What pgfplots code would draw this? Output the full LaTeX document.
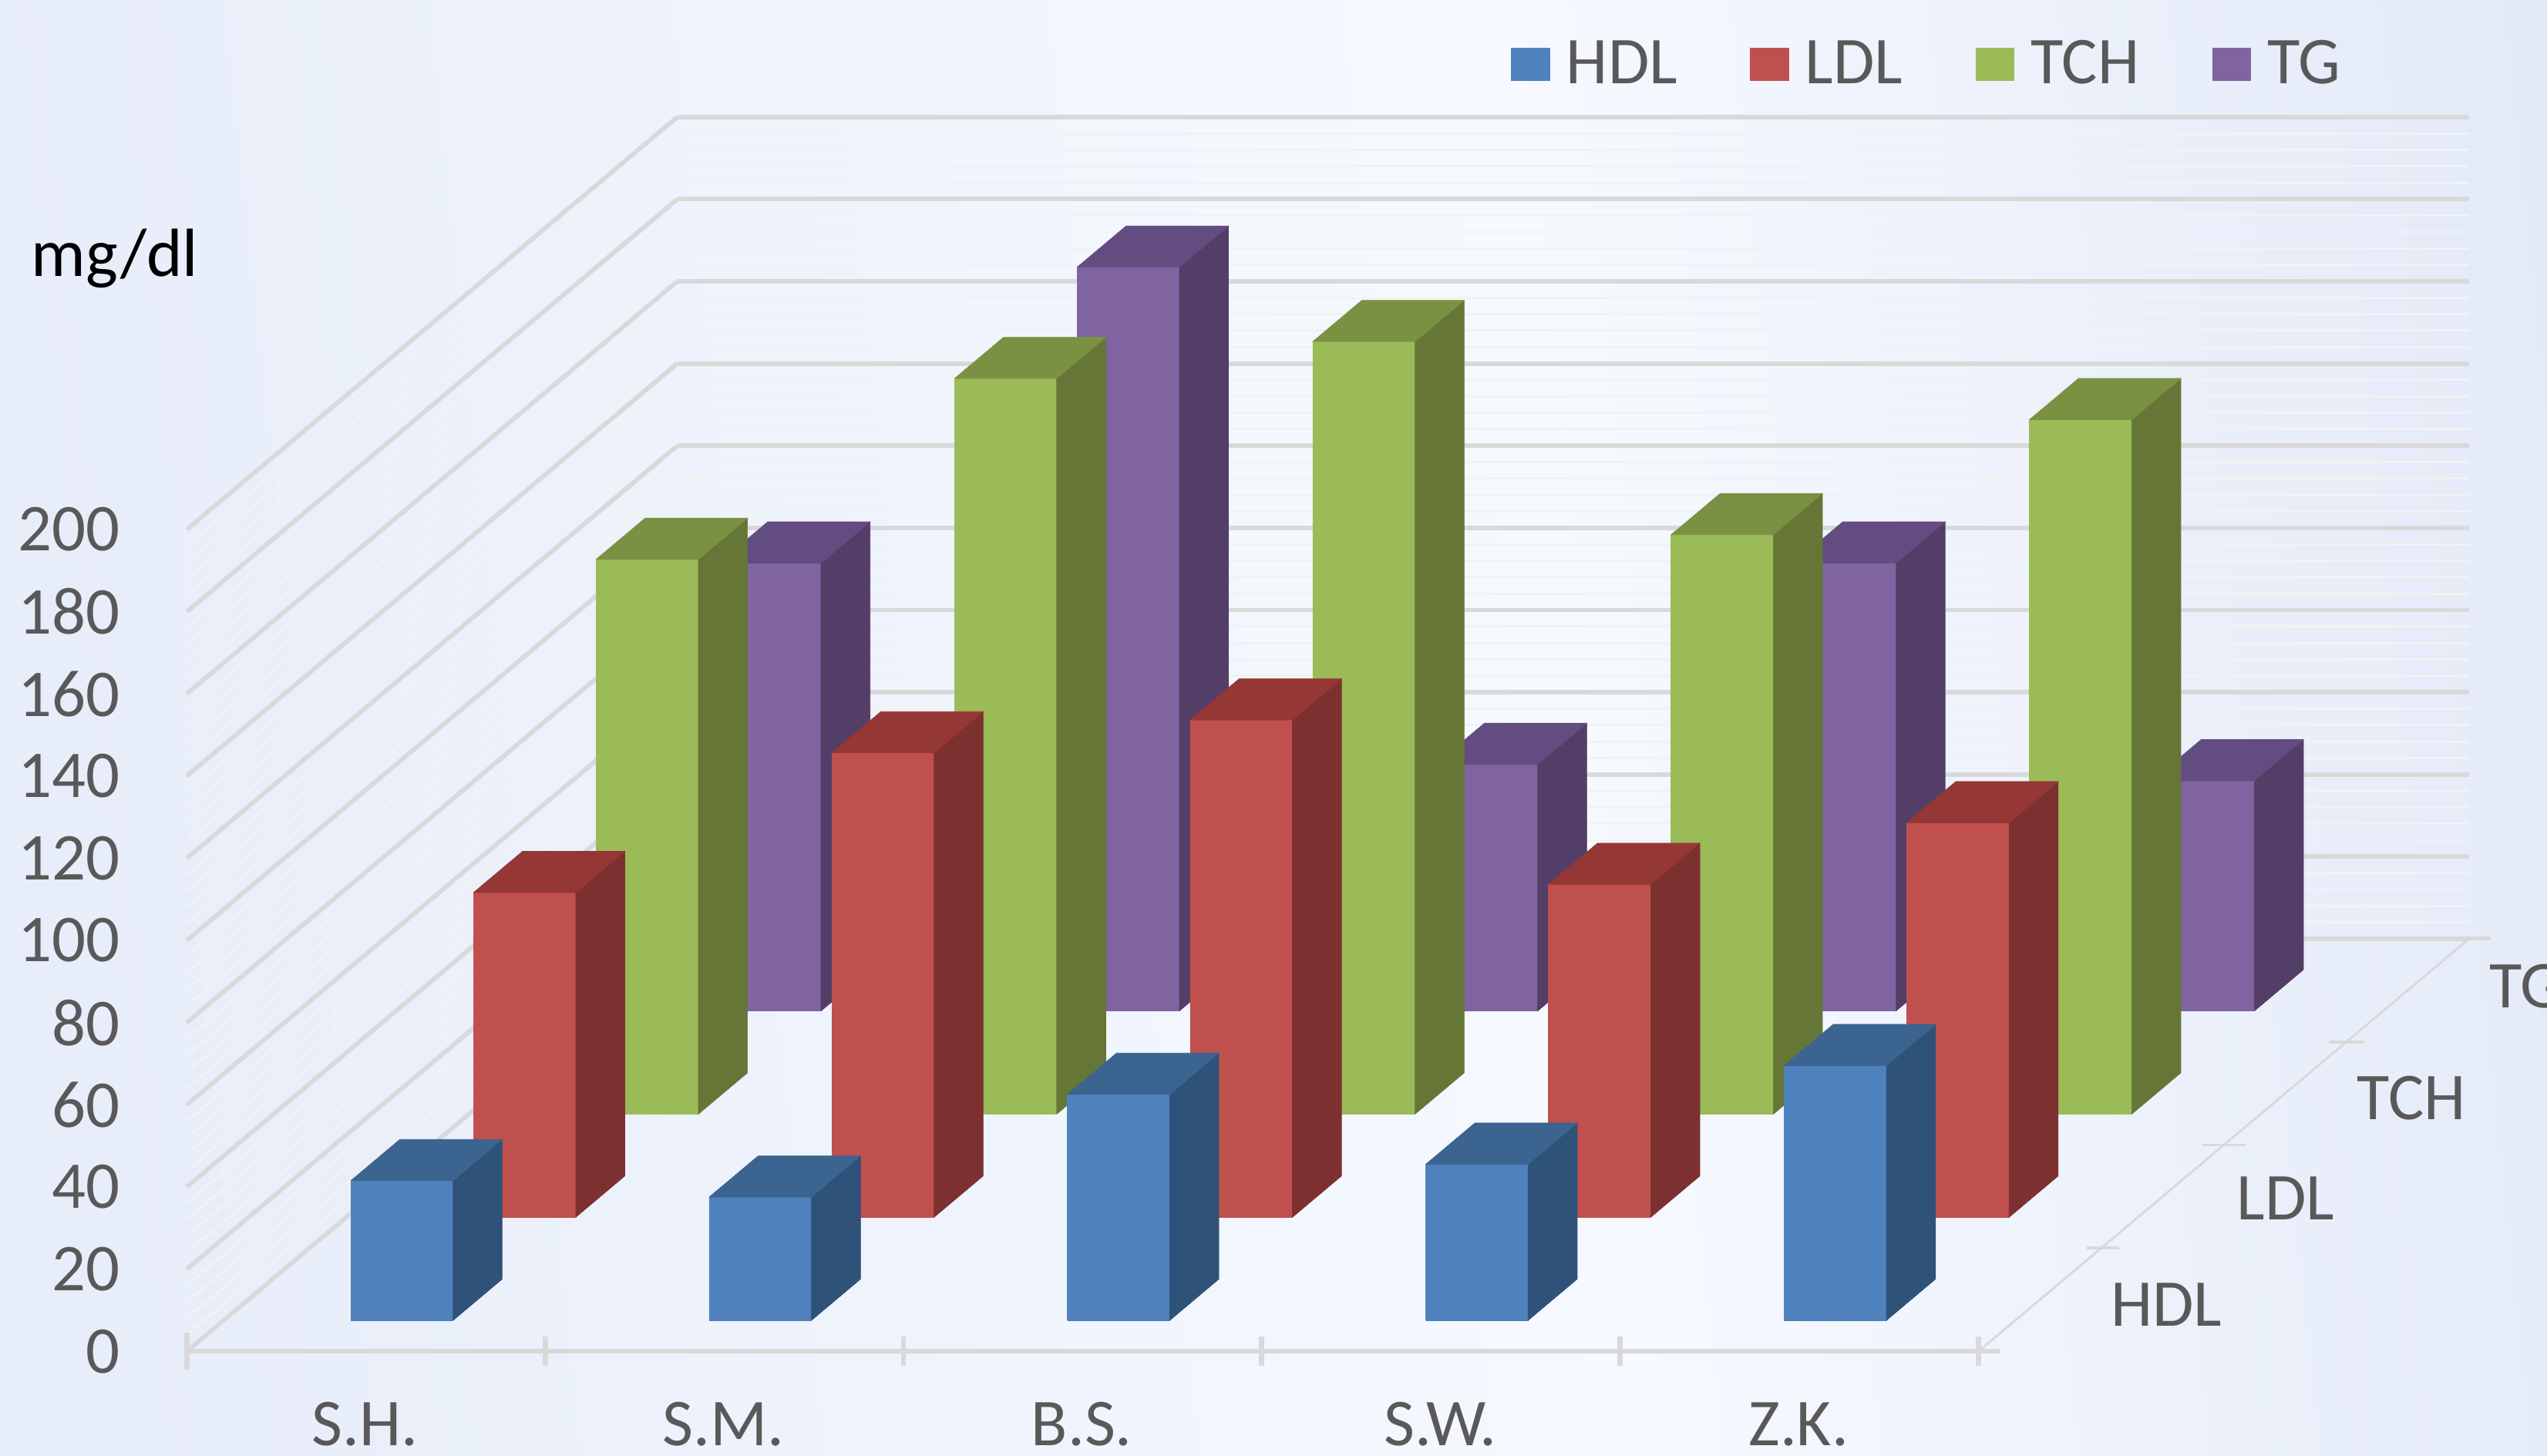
\documentclass[border=0pt]{standalone}
\usepackage{fontspec}
\setmainfont{Carlito}
\usepackage{pgfplots}
\usepackage{pgfplotstable}
\pgfplotsset{compat=1.18}
\definecolor{HDLF}{HTML}{4F81BD}\definecolor{HDLS}{HTML}{2F5279}\definecolor{HDLT}{HTML}{3B6490}
\definecolor{LDLF}{HTML}{C0504D}\definecolor{LDLS}{HTML}{7C3030}\definecolor{LDLT}{HTML}{953735}
\definecolor{TCHF}{HTML}{9BBB59}\definecolor{TCHS}{HTML}{657636}\definecolor{TCHT}{HTML}{7A9143}
\definecolor{TGF}{HTML}{8064A2}\definecolor{TGS}{HTML}{533E67}\definecolor{TGT}{HTML}{634C80}
\definecolor{gridM}{HTML}{D9D9D9}\definecolor{gridN}{HTML}{F2F2F2}\definecolor{lab}{HTML}{595959}
\definecolor{bgL}{HTML}{E7EDF9}\definecolor{bgM}{HTML}{F6F9FF}\definecolor{bgR}{HTML}{E2E9F7}
\pgfdeclarehorizontalshading{bgshade}{100bp}{color(0bp)=(bgL); color(25bp)=(bgL); color(56bp)=(bgM); color(78bp)=(bgR); color(100bp)=(bgR)}
\pgfplotstableread{
cat HDL LDL TCH TG
0 34 79 135 109
1 30 113 179 181
2 55 121 188 60
3 38 81 141 109
4 62 96 169 56
}\data
\newcommand\drawbar[3]{%
  \pgfplotstablegetelem{#1}{#2}\of\data
  \let\v\pgfplotsretval
  \pgfmathsetmacro\xa{#1+0.355}\pgfmathsetmacro\xb{#1+0.6405}%
  \pgfmathsetmacro\ya{#3+0.3}\pgfmathsetmacro\yb{#3+0.7}%
  \addplot3[forget plot,fill=#2F,draw=#2F,line width=.15pt] coordinates {(\xa,\ya,0) (\xb,\ya,0) (\xb,\ya,\v) (\xa,\ya,\v) (\xa,\ya,0)};
  \addplot3[forget plot,fill=#2S,draw=#2S,line width=.15pt] coordinates {(\xb,\ya,0) (\xb,\yb,0) (\xb,\yb,\v) (\xb,\ya,\v) (\xb,\ya,0)};
  \addplot3[forget plot,fill=#2T,draw=#2T,line width=.15pt] coordinates {(\xa,\ya,\v) (\xb,\ya,\v) (\xb,\yb,\v) (\xa,\yb,\v) (\xa,\ya,\v)};
}
\begin{document}
\begin{tikzpicture}
\path[use as bounding box,shading=bgshade,shading angle=6] (0pt,0pt) rectangle (784pt,-448pt);
\begin{axis}[
  at={(57.5pt,-416pt)},anchor=origin,
  x={(110.3pt,0pt)},y={(37.75pt,31.75pt)},z={(0pt,1.265pt)},
  xmin=0,xmax=5,ymin=0,ymax=4,zmin=0,zmax=200,
  clip=false,
  axis line style={draw=none},
  major tick length=0pt,minor tick length=0pt,
  xtick={0.5,1.5,2.5,3.5,4.5},xticklabels={S.H.,S.M.,B.S.,S.W.,Z.K.},
  ytick={0.5,1.5,2.5,3.5},yticklabels={HDL,LDL,TCH,TG},
  ztick={0,20,...,200},minor z tick num=4,
  zmajorgrids,zminorgrids,
  major grid style={gridM,line width=1.4pt},
  minor grid style={gridN,line width=.7pt},
  /pgf/number format/assume math mode=true,
  tick label style={font=\fontsize{20.6}{21}\selectfont,text=lab},
  xticklabel style={inner sep=0pt,xshift=3pt,yshift=-15.5pt},
  yticklabel style={xshift=24pt,yshift=13.5pt},
  zticklabel style={anchor=east,xshift=-17pt,yshift=0pt},
  legend columns=4,
  legend image code/.code={\path[draw=none] (0pt,0pt) -- (15pt,0pt);\fill[#1,draw=none] (0pt,-5pt) rectangle (12pt,5pt);},
  legend style={at={(axis cs:3.694,0,313.2)},anchor=west,draw=none,fill=none,inner sep=0pt,
    font=\fontsize{20.6}{21}\selectfont,text=lab,
    /tikz/every even column/.append style={column sep=20.4pt}},
]
\addlegendimage{HDLF}\addlegendentry{HDL}
\addlegendimage{LDLF}\addlegendentry{LDL}
\addlegendimage{TCHF}\addlegendentry{TCH}
\addlegendimage{TGF}\addlegendentry{TG}
% axis line and tick marks
\addplot3[forget plot,gridM,line width=1.4pt] coordinates {(0,0,0) (5.06,0,0)};
\addplot3[forget plot,gridM,line width=.7pt] coordinates {(5,0,0) (5,4,0)};
\addplot3[forget plot,gridM,line width=1.6pt] coordinates {(0,0,-4.5) (0,0,4.5)};
\addplot3[forget plot,gridM,line width=1.6pt] coordinates {(1,0,-3.6) (1,0,3.6)};
\addplot3[forget plot,gridM,line width=1.6pt] coordinates {(2,0,-3.6) (2,0,3.6)};
\addplot3[forget plot,gridM,line width=1.6pt] coordinates {(3,0,-3.6) (3,0,3.6)};
\addplot3[forget plot,gridM,line width=1.6pt] coordinates {(4,0,-3.6) (4,0,3.6)};
\addplot3[forget plot,gridM,line width=1.6pt] coordinates {(5,0,-3.6) (5,0,3.6)};
\addplot3[forget plot,gridM,line width=.9pt] coordinates {(4.96,1,0) (5.05,1,0)};
\addplot3[forget plot,gridM,line width=.9pt] coordinates {(4.94,2,0) (5.06,2,0)};
\addplot3[forget plot,gridM,line width=.9pt] coordinates {(4.95,3,0) (5.05,3,0)};
\addplot3[forget plot,gridM,line width=1.2pt] coordinates {(5,4,0) (5.06,4,0)};
% bars, back to front
\pgfplotsinvokeforeach{0,...,4}{\drawbar{#1}{TG}{3}}
\pgfplotsinvokeforeach{0,...,4}{\drawbar{#1}{TCH}{2}}
\pgfplotsinvokeforeach{0,...,4}{\drawbar{#1}{LDL}{1}}
\pgfplotsinvokeforeach{0,...,4}{\drawbar{#1}{HDL}{0}}
\node[black,font=\fontsize{21}{22}\selectfont,anchor=west] at (axis cs:-0.466,0,266) {mg/dl};
\end{axis}
\end{tikzpicture}
\end{document}
